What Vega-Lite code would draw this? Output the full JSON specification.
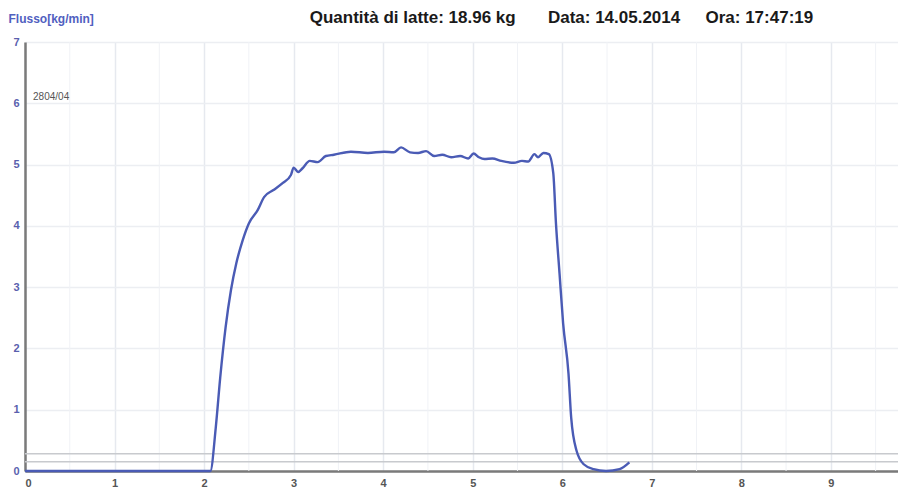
{
  "$schema": "https://vega.github.io/schema/vega-lite/v6.json",
  "autosize": {"type": "none"},
  "width": 873,
  "height": 429,
  "padding": {"left": 25, "top": 42, "right": 0, "bottom": 21},
  "background": "white",
  "config": {
    "font": "Liberation Sans",
    "view": {"stroke": null}
  },
  "data": {
    "values": [
      {"t": 0, "flow": 0},
      {"t": 1.0, "flow": 0},
      {"t": 2.07, "flow": 0},
      {"t": 2.13, "flow": 0.7},
      {"t": 2.18, "flow": 1.52},
      {"t": 2.24, "flow": 2.34},
      {"t": 2.3, "flow": 2.95},
      {"t": 2.36, "flow": 3.39},
      {"t": 2.43, "flow": 3.76},
      {"t": 2.5, "flow": 4.04},
      {"t": 2.6, "flow": 4.26},
      {"t": 2.67, "flow": 4.47},
      {"t": 2.77, "flow": 4.58},
      {"t": 2.88, "flow": 4.7},
      {"t": 2.97, "flow": 4.83},
      {"t": 3.0, "flow": 4.95},
      {"t": 3.05, "flow": 4.88},
      {"t": 3.1, "flow": 4.94},
      {"t": 3.18, "flow": 5.06},
      {"t": 3.27, "flow": 5.04},
      {"t": 3.36, "flow": 5.14},
      {"t": 3.45, "flow": 5.16},
      {"t": 3.64, "flow": 5.21},
      {"t": 3.83, "flow": 5.19},
      {"t": 4.01, "flow": 5.21},
      {"t": 4.12, "flow": 5.2},
      {"t": 4.2, "flow": 5.28},
      {"t": 4.3, "flow": 5.2},
      {"t": 4.39, "flow": 5.19},
      {"t": 4.48, "flow": 5.22},
      {"t": 4.57, "flow": 5.14},
      {"t": 4.66, "flow": 5.16},
      {"t": 4.76, "flow": 5.12},
      {"t": 4.86, "flow": 5.14},
      {"t": 4.95, "flow": 5.1},
      {"t": 5.01, "flow": 5.18},
      {"t": 5.07, "flow": 5.12},
      {"t": 5.13, "flow": 5.09},
      {"t": 5.22, "flow": 5.1},
      {"t": 5.32, "flow": 5.06},
      {"t": 5.46, "flow": 5.03},
      {"t": 5.55, "flow": 5.06},
      {"t": 5.62, "flow": 5.05},
      {"t": 5.69, "flow": 5.17},
      {"t": 5.73, "flow": 5.12},
      {"t": 5.79, "flow": 5.19},
      {"t": 5.85, "flow": 5.17},
      {"t": 5.9, "flow": 4.86},
      {"t": 5.93, "flow": 4.04},
      {"t": 5.97, "flow": 3.22},
      {"t": 6.01, "flow": 2.41},
      {"t": 6.07, "flow": 1.59},
      {"t": 6.1, "flow": 0.87},
      {"t": 6.16, "flow": 0.33},
      {"t": 6.24, "flow": 0.11},
      {"t": 6.35, "flow": 0.03},
      {"t": 6.49, "flow": 0.0},
      {"t": 6.64, "flow": 0.03},
      {"t": 6.75, "flow": 0.14}
    ]
  },
  "layer": [
    {
      "mark": {"type": "rule", "color": "#f0f2f6", "strokeWidth": 1},
      "data": {"values": [{"h": 0.5}, {"h": 1.5}, {"h": 2.5}, {"h": 3.5}, {"h": 4.5}, {"h": 5.5}, {"h": 6.5}, {"h": 7.5}, {"h": 8.5}, {"h": 9.5}]},
      "encoding": {"x": {"field": "h", "type": "quantitative"}}
    },
    {
      "mark": {"type": "rule", "color": "#c8cace", "strokeWidth": 1.5},
      "data": {"values": [{"lvl": 0.15}, {"lvl": 0.28}]},
      "encoding": {"y": {"field": "lvl", "type": "quantitative"}}
    },
    {
      "data": {"values": [{"label": "2804/04", "lx": 0.09, "ly": 6.1}]},
      "mark": {"type": "text", "align": "left", "baseline": "middle", "fontSize": 10, "color": "#555555", "font": "Liberation Sans"},
      "encoding": {
        "x": {"field": "lx", "type": "quantitative"},
        "y": {"field": "ly", "type": "quantitative"},
        "text": {"field": "label"}
      }
    },
    {
      "data": {"values": [
        {"label": "Quantità di latte: 18.96 kg", "lx": 3.18, "ly": 7.39},
        {"label": "Data: 14.05.2014", "lx": 5.84, "ly": 7.39},
        {"label": "Ora: 17:47:19", "lx": 7.6, "ly": 7.39}
      ]},
      "mark": {"type": "text", "align": "left", "baseline": "middle", "fontSize": 17, "fontWeight": "bold", "color": "#1a1a1a", "font": "Liberation Sans"},
      "encoding": {
        "x": {"field": "lx", "type": "quantitative"},
        "y": {"field": "ly", "type": "quantitative"},
        "text": {"field": "label"}
      }
    },
    {
      "mark": {"type": "line", "color": "#4a5bb5", "strokeWidth": 2.4, "interpolate": "monotone"},
      "encoding": {
        "x": {
          "field": "t",
          "type": "quantitative",
          "scale": {"domain": [0, 9.75], "nice": false},
          "axis": {
            "values": [0, 1, 2, 3, 4, 5, 6, 7, 8, 9],
            "format": "d",
            "title": null,
            "grid": true,
            "gridColor": "#e6e9ef",
            "gridWidth": 1.5,
            "domainColor": "#7a7a7a",
            "domainWidth": 2.5,
            "ticks": false,
            "labelFontSize": 11,
            "labelColor": "#555555",
            "labelPadding": 6,
            "labelFont": "Liberation Sans",
            "labelFontWeight": "bold"
          }
        },
        "y": {
          "field": "flow",
          "type": "quantitative",
          "scale": {"domain": [0, 7], "nice": false},
          "axis": {
            "values": [0, 1, 2, 3, 4, 5, 6, 7],
            "format": "d",
            "title": "Flusso[kg/min]",
            "titleAngle": 0,
            "titleX": -17,
            "titleY": -24,
            "titleAlign": "left",
            "titleBaseline": "middle",
            "titleFontSize": 12,
            "titleFontWeight": "bold",
            "titleColor": "#5060c0",
            "titleFont": "Liberation Sans",
            "grid": true,
            "gridColor": "#eceef2",
            "gridWidth": 1.5,
            "domainColor": "#7a7a7a",
            "domainWidth": 2.5,
            "ticks": false,
            "labelFontSize": 11,
            "labelColor": "#5a5fae",
            "labelPadding": 6,
            "labelFont": "Liberation Sans",
            "labelFontWeight": "bold"
          }
        }
      }
    }
  ]
}
